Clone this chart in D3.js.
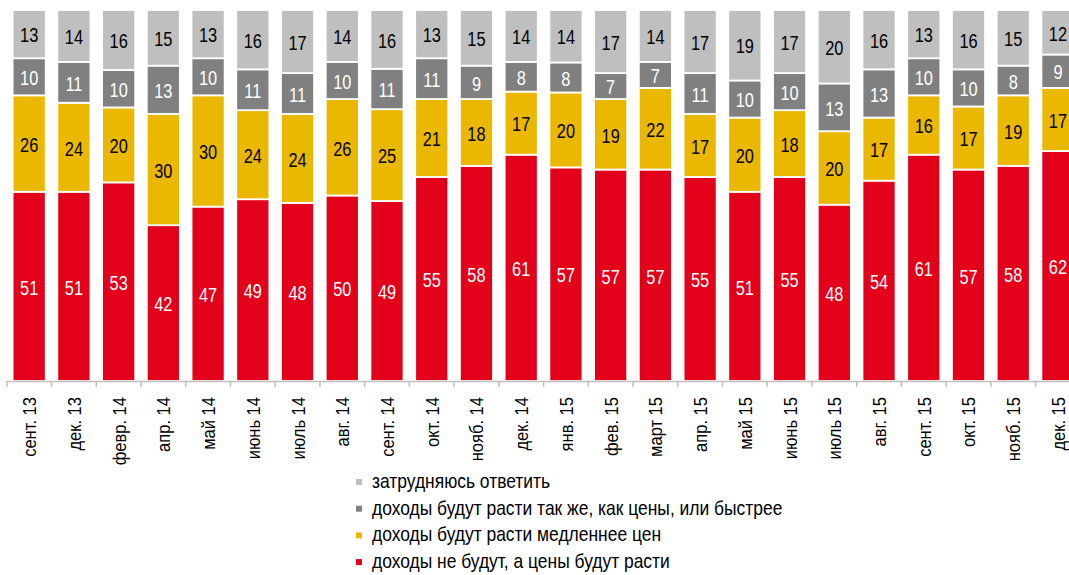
<!DOCTYPE html>
<html>
<head>
<meta charset="utf-8">
<script src="https://cdn.jsdelivr.net/npm/d3@7"></script>
<style>
  body { margin: 0; background: #fff; }
  svg { display: block; font-family: "Liberation Sans", Arial, sans-serif; }
</style>
</head>
<body>
<div id="chart"></div>
<script>
// Données
const months = ["сент. 13", "дек. 13", "февр. 14", "апр. 14", "май 14", "июнь 14", "июль 14", "авг. 14",
  "сент. 14", "окт. 14", "нояб. 14", "дек. 14", "янв. 15", "фев. 15", "март 15", "апр. 15", "май 15",
  "июнь 15", "июль 15", "авг. 15", "сент. 15", "окт. 15", "нояб. 15", "дек. 15"];
const notGrow = [51, 51, 53, 42, 47, 49, 48, 50, 49, 55, 58, 61, 57, 57, 57, 55, 51, 55, 48, 54, 61, 57, 58, 62];
const slower = [26, 24, 20, 30, 30, 24, 24, 26, 25, 21, 18, 17, 20, 19, 22, 17, 20, 18, 20, 17, 16, 17, 19, 17];
const sameOrFaster = [10, 11, 10, 13, 10, 11, 11, 10, 11, 11, 9, 8, 8, 7, 7, 11, 10, 10, 13, 13, 10, 10, 8, 9];
const dontKnow = [13, 14, 16, 15, 13, 16, 17, 14, 16, 13, 15, 14, 14, 17, 14, 17, 19, 17, 20, 16, 13, 16, 15, 12];

const seriesNames = [
  "доходы не будут, а цены будут расти",
  "доходы будут расти медленнее цен",
  "доходы будут расти так же, как цены, или быстрее",
  "затрудняюсь ответить"
];
const seriesValues = [notGrow, slower, sameOrFaster, dontKnow];
const colors = ["#e2001a", "#eab800", "#808080", "#bfbfbf"];
const labelColors = ["#fff", "#000", "#fff", "#000"];

const width = 1069, height = 575;
const x0 = 6.8, baseY = 381, topY = 10;

const svg = d3.select("#chart").append("svg")
  .attr("width", width)
  .attr("height", height);

const step = 44.73;
const xScale = d3.scaleBand()
  .domain(months)
  .range([x0, x0 + step * months.length])
  .paddingInner(0.26)
  .paddingOuter(0.13);

// les parts sont ramenées à 100 %
const yScale = d3.scaleLinear()
  .domain([0, 1])
  .range([baseY, topY]);

// Empilement
const table = months.map((m, i) => {
  const row = { month: m };
  seriesValues.forEach((s, k) => row["s" + k] = s[i]);
  return row;
});
const stack = d3.stack()
  .keys(seriesValues.map((s, k) => "s" + k))
  .offset(d3.stackOffsetExpand);
const stacked = stack(table);

const layers = svg.selectAll("g.layer")
  .data(stacked)
  .enter().append("g")
  .attr("class", "layer");

layers.selectAll("rect")
  .data(d => d)
  .enter().append("rect")
  .attr("x", d => xScale(d.data.month))
  .attr("width", xScale.bandwidth())
  .attr("y", d => yScale(d[1]))
  .attr("height", d => yScale(d[0]) - yScale(d[1]))
  .attr("fill", function () { return colors[d3.select(this.parentNode).datum().index]; })
  .attr("stroke", "#fff")
  .attr("stroke-width", 1.8);

layers.selectAll("text")
  .data(d => d.map(p => ({ p, key: d.key })))
  .enter().append("text")
  .attr("transform", d => {
    const cx = xScale(d.p.data.month) + xScale.bandwidth() / 2;
    const cy = (yScale(d.p[0]) + yScale(d.p[1])) / 2 + 1;
    return `translate(${cx}, ${cy}) scale(0.78, 1)`;
  })
  .attr("text-anchor", "middle")
  .attr("dominant-baseline", "central")
  .attr("font-size", 21)
  .attr("fill", function () { return labelColors[d3.select(this.parentNode).datum().index]; })
  .text(d => d.p.data[d.key]);

// Axe X
const axisColor = "#bfbfbf";
svg.append("line")
  .attr("x1", x0).attr("x2", x0 + step * months.length)
  .attr("y1", baseY + 0.5).attr("y2", baseY + 0.5)
  .attr("stroke", axisColor).attr("stroke-width", 1.5);

svg.selectAll("line.tick")
  .data(d3.range(months.length + 1))
  .enter().append("line")
  .attr("class", "tick")
  .attr("x1", i => x0 + i * step).attr("x2", i => x0 + i * step)
  .attr("y1", baseY).attr("y2", baseY + 6)
  .attr("stroke", axisColor).attr("stroke-width", 1.5);

svg.selectAll("text.month")
  .data(months)
  .enter().append("text")
  .attr("class", "month")
  .attr("transform", d => `translate(${xScale(d) + xScale.bandwidth() / 2 + 7}, ${baseY + 16}) rotate(-90) scale(0.87, 1)`)
  .attr("text-anchor", "end")
  .attr("font-size", 19)
  .attr("fill", "#000")
  .text(d => d);

// Légende
const legendOrder = [3, 2, 1, 0];
const legend = svg.selectAll("g.legend")
  .data(legendOrder)
  .enter().append("g")
  .attr("class", "legend")
  .attr("transform", (k, i) => `translate(356, ${488 + i * 26.7})`);

legend.append("rect")
  .attr("x", 0).attr("y", -9)
  .attr("width", 6).attr("height", 6)
  .attr("fill", k => colors[k]);

legend.append("text")
  .attr("transform", "translate(16, 0) scale(0.872, 1)")
  .attr("font-size", 20)
  .attr("fill", "#000")
  .text(k => seriesNames[k]);
</script>
</body>
</html>
